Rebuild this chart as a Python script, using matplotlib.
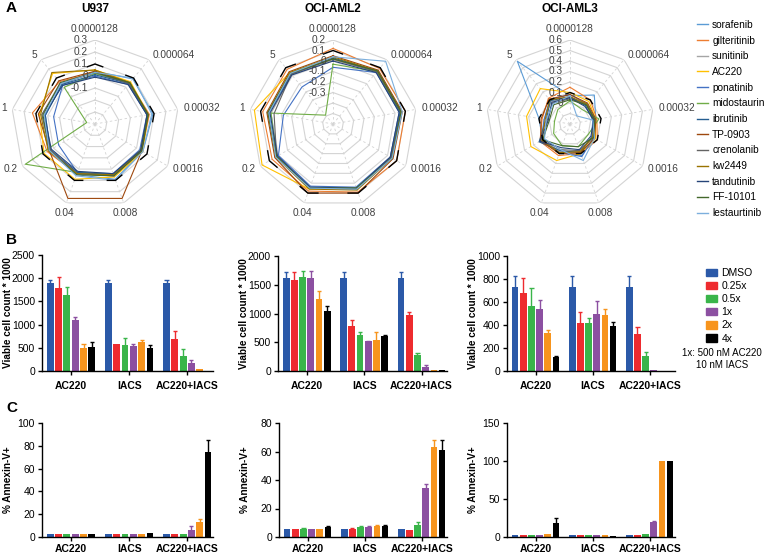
import numpy as np
import matplotlib.pyplot as plt
from matplotlib.lines import Line2D
from matplotlib.patches import Patch

plt.rcParams['font.family'] = ['Liberation Sans', 'DejaVu Sans']
plt.rcParams['font.size'] = 7.5

# ---------------- A: radar data ----------------
conc_labels = ['0.0000128', '0.000064', '0.00032', '0.0016', '0.008', '0.04', '0.2', '1', '5']
drugs = ['sorafenib', 'gilteritinib', 'sunitinib', 'AC220', 'ponatinib', 'midostaurin',
         'ibrutinib', 'TP-0903', 'crenolanib', 'kw2449', 'tandutinib', 'FF-10101', 'lestaurtinib']
drug_colors = ['#5B9BD5', '#ED7D31', '#A5A5A5', '#FFC000', '#4472C4', '#70AD47',
               '#255E91', '#9E480E', '#636363', '#997300', '#264478', '#43682B', '#7CAFDD']

u937 = [
    [0.04, 0.09, 0.09, 0.06, 0.09, 0.05, 0.03, 0.02, 0.03],
    [0.03, 0.05, 0.06, 0.05, 0.06, 0.04, 0.06, 0.13, 0.06],
    [0.02, 0.04, 0.05, 0.04, 0.05, 0.03, 0.04, 0.05, 0.05],
    [0.05, 0.06, 0.05, 0.06, 0.07, 0.09, 0.09, 0.07, 0.15],
    [0.00, 0.03, 0.04, 0.03, 0.04, 0.03, -0.05, -0.05, 0.02],
    [0.02, 0.05, 0.05, 0.04, 0.05, 0.03, 0.27, -0.33, 0.00],
    [0.01, 0.04, 0.04, 0.05, 0.05, 0.03, 0.03, 0.02, 0.03],
    [0.04, 0.05, 0.05, 0.05, 0.26, 0.26, 0.04, 0.08, 0.07],
    [0.03, 0.04, 0.05, 0.04, 0.06, 0.04, 0.03, 0.05, 0.04],
    [0.05, 0.05, 0.05, 0.04, 0.05, 0.04, 0.05, 0.06, 0.16],
    [-0.01, 0.03, 0.04, 0.04, 0.04, 0.02, 0.02, 0.03, 0.02],
    [0.03, 0.05, 0.05, 0.05, 0.06, 0.05, 0.04, 0.04, 0.05],
    [0.03, 0.10, 0.08, 0.06, 0.10, 0.06, 0.04, 0.03, 0.04],
]
aml2 = [
    [0.02, 0.06, 0.06, 0.04, 0.05, 0.04, 0.02, 0.02, 0.02],
    [0.12, 0.09, 0.10, 0.10, 0.09, 0.08, 0.07, 0.08, 0.08],
    [0.01, 0.05, 0.05, 0.03, 0.05, 0.05, 0.01, 0.00, 0.01],
    [0.02, 0.06, 0.05, 0.04, 0.05, 0.06, 0.18, 0.16, 0.04],
    [-0.06, 0.04, 0.04, 0.03, 0.04, 0.03, 0.00, -0.12, -0.14],
    [-0.03, 0.05, 0.05, 0.04, 0.05, 0.05, 0.02, 0.00, -0.49],
    [0.03, 0.06, 0.05, 0.04, 0.06, 0.05, 0.03, 0.02, 0.02],
    [0.05, 0.07, 0.07, 0.06, 0.10, 0.10, 0.04, 0.04, 0.05],
    [0.02, 0.05, 0.06, 0.04, 0.06, 0.05, 0.02, -0.03, 0.02],
    [0.04, 0.06, 0.06, 0.05, 0.07, 0.06, 0.03, 0.03, 0.04],
    [0.00, 0.04, 0.04, 0.03, 0.05, 0.04, 0.01, 0.01, 0.01],
    [0.02, 0.06, 0.06, 0.05, 0.05, 0.05, 0.02, 0.03, 0.03],
    [0.04, 0.18, 0.07, 0.05, 0.06, 0.05, 0.03, 0.02, 0.03],
]
aml3 = [
    [0.07, 0.16, 0.05, 0.06, 0.12, 0.08, 0.10, 0.10, 0.58],
    [0.15, 0.10, 0.06, 0.10, 0.10, 0.12, 0.13, 0.07, 0.12],
    [0.05, 0.04, 0.03, 0.05, 0.08, 0.08, 0.10, 0.05, 0.08],
    [0.10, 0.08, 0.05, 0.08, 0.10, 0.17, 0.23, 0.22, 0.24],
    [0.08, 0.05, 0.04, 0.06, 0.13, 0.09, 0.12, 0.05, 0.10],
    [0.02, -0.02, 0.08, 0.00, 0.03, 0.02, -0.02, -0.05, -0.02],
    [0.06, 0.03, 0.02, 0.04, 0.09, 0.07, 0.14, 0.03, 0.09],
    [0.08, 0.06, 0.05, 0.07, 0.09, 0.10, 0.12, 0.08, 0.11],
    [0.04, 0.05, 0.04, 0.05, 0.07, 0.06, 0.09, 0.02, 0.06],
    [0.06, 0.05, 0.03, 0.05, 0.08, 0.09, 0.11, 0.04, 0.10],
    [0.05, 0.02, 0.03, 0.03, 0.06, 0.04, 0.13, 0.01, 0.07],
    [0.03, 0.04, 0.04, 0.06, 0.03, 0.02, 0.10, 0.00, 0.04],
    [0.07, -0.10, 0.02, 0.07, 0.17, 0.06, 0.08, 0.03, 0.05],
]
cutoff = 0.1  # black dashed reference level

# ---------------- B / C: bar data (rows = AC220, IACS, AC220+IACS) ----------------
groups = ['AC220', 'IACS', 'AC220+IACS']
doses = ['DMSO', '0.25x', '0.5x', '1x', '2x', '4x']
dose_colors = ['#2B59A8', '#EE2B2F', '#3AB54A', '#8C50A1', '#F7941D', '#000000']

b_u937 = [[1900, 1795, 1635, 1095, 505, 520],
          [1900, 575, 555, 535, 625, 505],
          [1900, 680, 320, 180, 50, 5]]
b_u937_err = [[60, 225, 165, 60, 85, 105],
              [60, 0, 165, 55, 50, 65],
              [60, 175, 150, 65, 0, 0]]
b_aml2 = [[1620, 1580, 1640, 1620, 1245, 1035],
          [1620, 785, 620, 515, 535, 615],
          [1620, 970, 275, 70, 12, 22]]
b_aml2_err = [[105, 135, 105, 120, 150, 95],
              [105, 100, 60, 15, 145, 10],
              [105, 50, 40, 30, 0, 0]]
b_aml3 = [[730, 675, 565, 535, 330, 120],
          [730, 420, 420, 500, 490, 395],
          [730, 325, 130, 12, 0, 0]]
b_aml3_err = [[100, 135, 155, 80, 30, 12],
              [100, 90, 45, 110, 45, 30],
              [100, 60, 35, 0, 0, 0]]

c_u937 = [[2.9, 2.9, 2.3, 2.3, 2.6, 2.9],
          [2.9, 2.9, 2.9, 2.9, 2.9, 3.5],
          [2.9, 2.6, 2.9, 6.1, 13.0, 75.0]]
c_u937_err = [[0, 0, 0, 0, 0, 0],
              [0, 0, 0, 0, 0, 0],
              [0, 0, 0, 3.5, 3.0, 10.0]]
c_aml2 = [[5.3, 5.3, 5.8, 5.6, 5.3, 7.0],
          [5.3, 5.6, 7.2, 7.2, 7.9, 7.9],
          [5.3, 4.6, 8.6, 34.6, 63.5, 61.4]]
c_aml2_err = [[0, 0, 0.4, 0, 0, 0.4],
              [0, 0.4, 0.4, 0.4, 0.4, 0.4],
              [0, 0, 1.8, 2.5, 4.9, 7.0]]
c_aml3 = [[2.2, 2.2, 2.2, 2.2, 4.3, 18.3],
          [2.2, 2.2, 2.6, 2.2, 2.2, 1.3],
          [2.2, 2.2, 3.5, 20.0, 100.0, 100.0]]
c_aml3_err = [[0, 0, 0, 0, 0, 7.0],
              [0, 0, 0, 0, 0, 0],
              [0, 0, 0, 1.0, 0, 0]]

W, H = 766, 556
fig = plt.figure(figsize=(W / 100, H / 100), dpi=100)


def fbox(left, top, width, height):
    return [left / W, 1 - (top + height) / H, width / W, height / H]


def radar(ax, data, rmin, rmax, rlabels):
    n = len(conc_labels)
    theta = np.arange(n) * 2 * np.pi / n
    tc = np.append(theta, theta[0])
    ax.set_theta_zero_location('N')
    ax.set_theta_direction(-1)
    ax.set_ylim(rmin, rmax)
    ax.grid(False)
    ax.spines['polar'].set_visible(False)
    ax.set_xticks([])
    ax.set_yticks([])
    ax.patch.set_alpha(0)
    rings = np.arange(rmin + 0.1, rmax + 1e-9, 0.1)
    for r in rings:
        ax.plot(tc, np.full(n + 1, r), color='#D4D4D4', lw=0.8, zorder=1)
    for t in theta:
        ax.plot([t, t], [rmin, rmax], color='#D4D4D4', lw=0.6, ls=(0, (3, 3)), zorder=1)
    for vals, c in zip(data, drug_colors):
        v = np.asarray(vals)
        ax.plot(tc, np.append(v, v[0]), color=c, lw=0.8, zorder=3)
    # black dashes centred on the vertices of the cutoff polygon
    rho = cutoff - rmin
    x, y = rho * np.sin(theta), rho * np.cos(theta)
    f = 0.2
    for k in range(n):
        kp, kn = (k - 1) % n, (k + 1) % n
        px = np.array([x[k] + f * (x[kp] - x[k]), x[k], x[k] + f * (x[kn] - x[k])])
        py = np.array([y[k] + f * (y[kp] - y[k]), y[k], y[k] + f * (y[kn] - y[k])])
        ax.plot(np.arctan2(px, py), np.hypot(px, py) + rmin, color='black', lw=1.0, zorder=4)
    for t, lab in zip(theta, conc_labels):
        s, c = np.sin(t), np.cos(t)
        ha = 'center' if abs(s) < 0.4 else ('left' if s > 0 else 'right')
        va = 'bottom' if c > 0.8 else ('top' if c < -0.8 else 'center')
        ax.annotate(lab, xy=(t, rmax), xytext=(4 * s, 4 * c), textcoords='offset points',
                    ha=ha, va=va, fontsize=7.3, color='#404040', annotation_clip=False)
    for r in rlabels:
        ax.annotate(f'{r:g}', xy=(0, r), xytext=(-5, 0), textcoords='offset points',
                    ha='right', va='center', fontsize=7.3, color='#404040',
                    annotation_clip=False, zorder=5)


R = 84
radar_specs = [
    ('U937', u937, -0.4, 0.3, [-0.1, 0, 0.1, 0.2, 0.3], 95),
    ('OCI-AML2', aml2, -0.6, 0.2, [-0.3, -0.2, -0.1, 0, 0.1, 0.2], 333),
    ('OCI-AML3', aml3, -0.2, 0.6, [0, 0.1, 0.2, 0.3, 0.4, 0.5, 0.6], 570),
]
for title, data, rmin, rmax, rl, cx in radar_specs:
    ax = fig.add_axes(fbox(cx - R, 124 - R, 2 * R, 2 * R), projection='polar')
    radar(ax, data, rmin, rmax, rl)
    fig.text(cx / W, 1 - 9 / H, title, ha='center', va='center', fontsize=8.5, fontweight='bold')

fig.legend([Line2D([], [], color=c, lw=1) for c in drug_colors], drugs,
           loc='upper left', bbox_to_anchor=(697 / W, 1 - 20 / H), frameon=False,
           fontsize=7.3, handlelength=1.1, handletextpad=0.4, labelspacing=0.56,
           borderpad=0, borderaxespad=0)


def bars(ax, mean, err, ymax, ystep, ylabel, xpad):
    mean = np.asarray(mean, float)
    err = np.asarray(err, float)
    gx = np.arange(len(groups)) * 7
    for i, c in enumerate(dose_colors):
        x = gx + i
        ax.bar(x, mean[:, i], width=0.82, color=c, zorder=2)
        m = err[:, i] > 0
        top = mean[m, i] + err[m, i]
        ax.vlines(x[m], mean[m, i], top, color=c, lw=1, zorder=1)
        ax.hlines(top, x[m] - 0.25, x[m] + 0.25, color=c, lw=1, zorder=1)
    ax.set_xlim(-1.0, 19.6)
    ax.set_ylim(0, ymax)
    ax.set_yticks(np.arange(0, ymax + 1, ystep))
    ax.set_xticks(gx + 2.5, groups, fontweight='bold')
    for s in ['top', 'right']:
        ax.spines[s].set_visible(False)
    for s in ['left', 'bottom']:
        ax.spines[s].set_linewidth(1)
    ax.tick_params(length=3, width=1, labelsize=7.5, pad=2)
    ax.tick_params(axis='x', pad=xpad)
    ax.set_ylabel(ylabel, fontweight='bold', fontsize=7.2)
    ax.yaxis.set_label_coords(-0.17, 0.5)


bar_specs = [
    (fbox(42, 255, 171, 116), b_u937, b_u937_err, 2500, 500, 'Viable cell count * 1000', 4),
    (fbox(278, 256, 169, 115), b_aml2, b_aml2_err, 2000, 500, 'Viable cell count * 1000', 4),
    (fbox(507, 256, 168, 115), b_aml3, b_aml3_err, 1000, 200, 'Viable cell count * 1000', 4),
    (fbox(42, 423, 171, 114), c_u937, c_u937_err, 100, 20, '% Annexin-V+', 2),
    (fbox(279, 423, 168, 114), c_aml2, c_aml2_err, 80, 20, '% Annexin-V+', 2),
    (fbox(507, 423, 168, 114), c_aml3, c_aml3_err, 150, 50, '% Annexin-V+', 2),
]
for box, mean, err, ymax, ystep, ylab, xpad in bar_specs:
    bars(fig.add_axes(box), mean, err, ymax, ystep, ylab, xpad)

fig.legend([Patch(color=c) for c in dose_colors], doses, loc='upper left',
           bbox_to_anchor=(706 / W, 1 - 268 / H), frameon=False, fontsize=7.5,
           handlelength=1.1, handleheight=0.7, handletextpad=0.4, labelspacing=0.3,
           borderpad=0, borderaxespad=0)
fig.text(722 / W, 1 - 359 / H, '1x: 500 nM AC220\n10 nM IACS', ha='center', va='center',
         fontsize=7, linespacing=1.15)

for lab, y in [('A', 8), ('B', 240), ('C', 408)]:
    fig.text(6 / W, 1 - y / H, lab, ha='left', va='center', fontsize=11, fontweight='bold')

fig.savefig('out.png', dpi=100)
